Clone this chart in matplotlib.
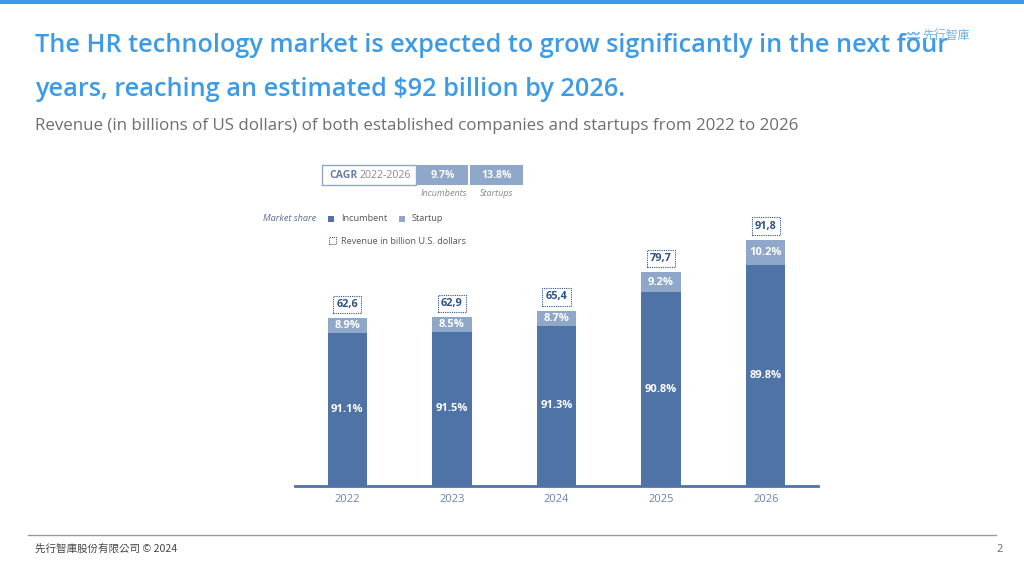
import matplotlib
matplotlib.use("Agg")
import matplotlib.pyplot as plt
from matplotlib.patches import Rectangle, Arc

years = ["2022", "2023", "2024", "2025", "2026"]
totals = [62.6, 62.9, 65.4, 79.7, 91.8]
total_labels = ["62,6", "62,9", "65,4", "79,7", "91,8"]
incumbent_share = [91.1, 91.5, 91.3, 90.8, 89.8]
startup_share = [8.9, 8.5, 8.7, 9.2, 10.2]
cagr_incumbents = "9.7%"
cagr_startups = "13.8%"

INC = "#4f73a6"
STA = "#8fa7c9"
DARK = "#2d5288"
TITLE = "#3b9be8"
LOGO = "#6fb3ea"

plt.rcParams['font.family'] = ['Open Sans', 'Noto Sans CJK TC', 'DejaVu Sans']

W, H = 1024, 576
fig = plt.figure(figsize=(W / 100, H / 100), dpi=100)

def fx(x):
    return x / W

def fy(y):
    return 1 - y / H

# top blue stripe
fig.add_artist(Rectangle((0, fy(4)), 1, 4 / H, transform=fig.transFigure,
                         color=TITLE, lw=0))

# title & subtitle
fig.text(fx(35), fy(46), "The HR technology market is expected to grow significantly in the next four",
         fontsize=18.2, color=TITLE, fontweight='semibold', va='center', ha='left')
fig.text(fx(35), fy(89), "years, reaching an estimated $92 billion by 2026.",
         fontsize=18.2, color=TITLE, fontweight='semibold', va='center', ha='left')
fig.text(fx(35), fy(126), "Revenue (in billions of US dollars) of both established companies and startups from 2022 to 2026",
         fontsize=12.15, color="#6e6e6e", va='center', ha='left')

# logo (icon drawn as small arcs + text)
for cx, cy in [(910.5, 32), (916.5, 32)]:
    fig.add_artist(Arc((fx(cx), fy(cy)), 5 / W, 5 / H, theta1=180, theta2=360,
                       transform=fig.transFigure, color=LOGO, lw=1.2))
fig.add_artist(plt.Line2D([fx(908), fx(919)], [fy(38), fy(38)], transform=fig.transFigure,
                          color=LOGO, lw=1.2))
fig.text(fx(922), fy(35), "先行智庫", fontsize=8.6, color=LOGO, va='center', ha='left',
         family=['Noto Sans CJK TC', 'DejaVu Sans'])

# footer
fig.add_artist(plt.Line2D([fx(28), fx(996)], [fy(535), fy(535)], transform=fig.transFigure,
                          color="#9a9a9a", lw=1))
fig.text(fx(35), fy(549), "先行智庫股份有限公司 © 2024", fontsize=7.6, color="#444444",
         va='center', ha='left', family=['Noto Sans CJK TC', 'DejaVu Sans'])
fig.text(fx(1003), fy(550), "2", fontsize=8, color="#666666", va='center', ha='right')

# main axes
ax = fig.add_axes([fx(295), fy(486), (818 - 295) / W, 268 / H])
ax.set_xlim(-0.5, 4.5)
ax.set_ylim(0, 100)
xs = list(range(len(years)))
inc_vals = [t * s / 100 for t, s in zip(totals, incumbent_share)]
sta_vals = [t * s / 100 for t, s in zip(totals, startup_share)]
bw = 0.375
ax.bar(xs, inc_vals, width=bw, color=INC, lw=0)
ax.bar(xs, sta_vals, width=bw, bottom=inc_vals, color=STA, lw=0)
for x, iv, sv, isr, ssr, tl in zip(xs, inc_vals, sta_vals, incumbent_share, startup_share, total_labels):
    ax.text(x, iv / 2, f"{isr:.1f}%", ha='center', va='center', color='white',
            fontsize=8, fontweight='bold')
    ax.text(x, iv + sv / 2, f"{ssr:.1f}%", ha='center', va='center', color='white',
            fontsize=8, fontweight='bold')
    ax.text(x, iv + sv + 5.2, tl, ha='center', va='center', color=DARK,
            fontsize=7.8, fontweight='bold',
            bbox=dict(boxstyle='square,pad=0.3', fc='white', ec=DARK, ls=(0, (1, 1)), lw=0.8))

for s in ['top', 'right', 'left']:
    ax.spines[s].set_visible(False)
ax.spines['bottom'].set_color(INC)
ax.spines['bottom'].set_linewidth(2)
ax.set_yticks([])
ax.set_xticks(xs)
ax.set_xticklabels(years)
ax.tick_params(axis='x', length=0, pad=6, labelsize=8, labelcolor="#6a84ab")

# CAGR table
def frect(x0, y0, x1, y1, fc, ec=None, lw=0.0, ls='-'):
    fig.add_artist(Rectangle((fx(x0), fy(y1)), (x1 - x0) / W, (y1 - y0) / H,
                             transform=fig.transFigure, fc=fc,
                             ec=ec if ec else fc, lw=lw, ls=ls))

frect(322, 165, 416, 185, 'white', STA, 1.0)
frect(417, 165, 468, 185, STA)
frect(470, 165, 523, 185, STA)
fig.text(fx(329), fy(175.5), "CAGR", fontsize=7.6, color="#6b7f9f", fontweight='bold',
         va='center', ha='left')
fig.text(fx(360), fy(175.5), "2022-2026", fontsize=7.6, color="#8a8a8a",
         va='center', ha='left')
fig.text(fx(442.5), fy(175.5), cagr_incumbents, fontsize=7.6, color='white', fontweight='bold',
         va='center', ha='center')
fig.text(fx(496.5), fy(175.5), cagr_startups, fontsize=7.6, color='white', fontweight='bold',
         va='center', ha='center')
fig.text(fx(444), fy(193), "Incumbents", fontsize=6.5, color="#8a8a8a", style='italic',
         va='center', ha='center')
fig.text(fx(497), fy(193), "Startups", fontsize=6.5, color="#8a8a8a", style='italic',
         va='center', ha='center')

# legend
fig.text(fx(263), fy(219), "Market share", fontsize=6.6, color="#5b6f91", style='italic',
         va='center', ha='left')
frect(328, 216, 334, 222, INC)
fig.text(fx(341), fy(219), "Incumbent", fontsize=6.6, color="#555555", va='center', ha='left')
frect(399, 216, 405, 222, STA)
fig.text(fx(412), fy(219), "Startup", fontsize=6.6, color="#555555", va='center', ha='left')
frect(329, 237, 336, 244, 'white', DARK, 0.7, (0, (1, 1)))
fig.text(fx(341), fy(241), "Revenue in billion U.S. dollars", fontsize=6.6, color="#555555",
         va='center', ha='left')

fig.savefig("out.png", dpi=100)
